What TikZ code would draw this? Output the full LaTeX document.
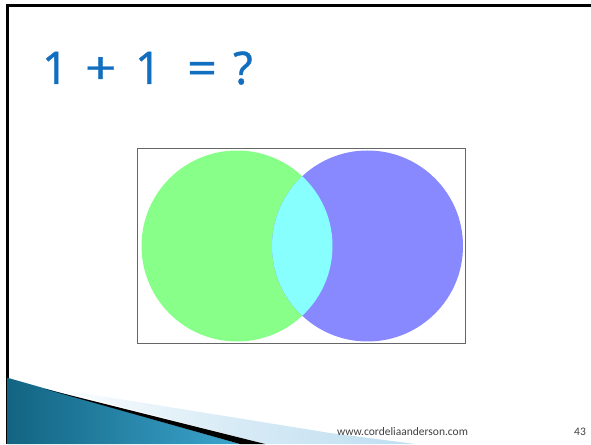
\documentclass[tikz,border=0pt]{standalone}
\usepackage{fontspec}
\setmainfont{Carlito}
\newfontfamily\titlefont[FakeBold=0.8]{Noto Sans}
\definecolor{titleblue}{RGB}{18,110,190}
\definecolor{vgreen}{RGB}{136,255,136}
\definecolor{vblue}{RGB}{136,136,255}
\definecolor{vcyan}{RGB}{136,255,255}
\definecolor{tealA}{RGB}{18,100,130}
\definecolor{tealB}{RGB}{60,165,205}
\definecolor{paleblue}{RGB}{190,222,240}
\tikzset{
  frameline/.style={line width=3pt,black},
  footer/.style={font=\fontsize{11.5}{13}\selectfont,text=black!75,inner sep=0pt,anchor=base west},
}
\begin{document}
\begin{tikzpicture}[x=1pt,y=1pt]
\useasboundingbox (0,0) rectangle (591,444);
\fill[white] (0,0) rectangle (591,444);
% slide frame
\draw[frameline] (7.5,0) -- (7.5,438) -- (591,438);
% title
\node[font=\titlefont\fontsize{45}{50}\selectfont,text=titleblue,inner sep=0pt,anchor=base west] (title) at (42,360)
  {\makebox[44pt][l]{1}\makebox[49pt][l]{\hspace{-1pt}\scalebox{1.2}[1]{+}}\makebox[52pt][l]{1}\makebox[46pt][l]{\scalebox{1.15}[1]{=}}?};
% venn picture
\node[draw=black!60,line width=0.8pt,minimum width=328pt,minimum height=195pt,inner sep=0pt] (pic) at (301.5,198.5) {};
\fill[vgreen] (237,198) circle[radius=95.5];
\fill[vblue] (367.5,198) circle[radius=95.5];
\begin{scope}
  \clip (237,198) circle[radius=95.5];
  \fill[vcyan] (367.5,198) circle[radius=95.5];
\end{scope}
% bottom-left decoration
\shade[left color=white,right color=paleblue,middle color=paleblue!60] (45,57) -- (330,11) -- (415,0) -- (265,0) -- cycle;
\shade[left color=tealA,right color=tealB] (7.5,0) -- (7.5,66) -- (10,65.5) -- (240,0) -- cycle;
\fill[black] (45,55) -- (265,0) -- (240,0) -- cycle;
% footer
\node[footer] (url) at (337,9) {www.cordeliaanderson.com};
\node[footer] (num) at (574,9) {43};
\end{tikzpicture}
\end{document}
